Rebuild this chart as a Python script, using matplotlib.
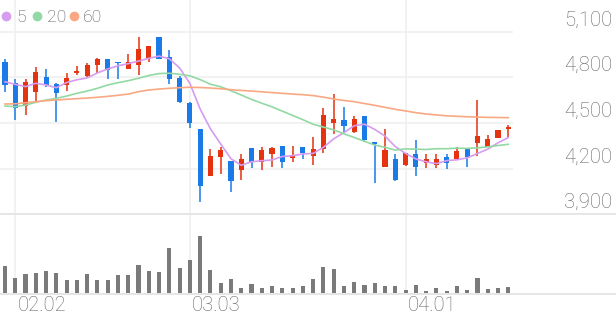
import matplotlib
matplotlib.use('Agg')
import matplotlib.pyplot as plt
import matplotlib.transforms as mtransforms
from matplotlib.lines import Line2D

# ---------------- data ----------------
opens = [4899, 4761, 4612, 4702, 4800, 4756, 4750, 4831, 4807, 4883,
         4919, 4903, 4857, 4880, 4921, 5067, 4936, 4794, 4629, 4461,
         4154, 4275, 4250, 4191, 4334, 4242, 4296, 4351, 4272, 4340,
         4285, 4329, 4498, 4520, 4443, 4546, 4373, 4213, 4261, 4224,
         4296, 4235, 4224, 4279, 4261, 4334, 4367, 4344, 4403, 4461]
highs = [4919, 4787, 4791, 4870, 4853, 4761, 4831, 4875, 4896, 4925,
         4923, 4903, 4951, 5067, 5008, 5067, 4980, 4809, 4640, 4461,
         4329, 4344, 4250, 4296, 4334, 4340, 4340, 4351, 4349, 4340,
         4406, 4597, 4691, 4603, 4546, 4546, 4373, 4461, 4296, 4305,
         4388, 4296, 4296, 4296, 4340, 4334, 4651, 4421, 4454, 4487]
lows = [4702, 4520, 4553, 4645, 4735, 4505, 4710, 4815, 4800, 4831,
        4787, 4787, 4853, 4815, 4903, 4919, 4756, 4629, 4465, 3983,
        4154, 4165, 4048, 4125, 4202, 4191, 4213, 4202, 4246, 4261,
        4224, 4301, 4428, 4432, 4436, 4377, 4108, 4209, 4121, 4219,
        4152, 4202, 4202, 4196, 4257, 4213, 4283, 4340, 4403, 4406]
closes = [4750, 4597, 4767, 4833, 4750, 4699, 4798, 4842, 4883, 4921,
          4848, 4892, 4901, 4985, 5008, 4921, 4787, 4640, 4498, 4088,
          4285, 4322, 4121, 4263, 4242, 4322, 4334, 4246, 4283, 4301,
          4329, 4553, 4524, 4482, 4524, 4388, 4360, 4322, 4125, 4301,
          4213, 4261, 4261, 4239, 4318, 4275, 4414, 4395, 4454, 4472]
volumes = [82, 47, 58, 62, 67, 62, 40, 40, 57, 40,
           40, 55, 55, 85, 67, 65, 137, 75, 100, 173,
           70, 32, 42, 17, 27, 15, 22, 17, 17, 22,
           42, 80, 72, 23, 35, 25, 30, 22, 23, 10,
           25, 8, 15, 8, 22, 10, 47, 12, 17, 18]
ma5 = [4771, 4754, 4739, 4761, 4750, 4732, 4766, 4784, 4796, 4829,
       4855, 4876, 4890, 4907, 4925, 4940, 4922, 4862, 4760, 4592,
       4462, 4362, 4265, 4222, 4245, 4252, 4257, 4280, 4285, 4297,
       4300, 4340, 4396, 4437, 4482, 4492, 4458, 4414, 4345, 4300,
       4264, 4245, 4233, 4253, 4258, 4271, 4300, 4328, 4370, 4404]
ma20 = [4612, 4607, 4618, 4636, 4651, 4662, 4677, 4695, 4710, 4728,
        4750, 4765, 4778, 4794, 4812, 4825, 4827, 4820, 4810, 4785,
        4755, 4738, 4712, 4684, 4655, 4630, 4606, 4578, 4550, 4522,
        4492, 4473, 4455, 4429, 4405, 4380, 4355, 4340, 4322, 4330,
        4328, 4326, 4331, 4331, 4335, 4333, 4337, 4343, 4352, 4360]
ma60 = [4625, 4626, 4633, 4640, 4647, 4651, 4656, 4660, 4664, 4669,
        4675, 4682, 4690, 4706, 4717, 4723, 4728, 4732, 4735, 4733,
        4730, 4725, 4719, 4714, 4710, 4705, 4700, 4695, 4690, 4686,
        4680, 4670, 4658, 4648, 4640, 4628, 4616, 4603, 4590, 4579,
        4568, 4559, 4553, 4547, 4544, 4541, 4539, 4537, 4536, 4535]
xtick_idx = [1, 18, 39]
xtick_labels = ['02.02', '03.03', '04.01']
price_ticks = [3900, 4200, 4500, 4800, 5100]
price_labels = ['3,900', '4,200', '4,500', '4,800', '5,100']
legend_labels = ['5', '20', '60']

# ---------------- style ----------------
W, H, DPI = 616, 321, 100
UP, DOWN = '#e5320f', '#1a7ae8'
MA_COLORS = ['#d69cf0', '#92d9a3', '#f9a883']
GRID = '#f0f0f0'
SEP = '#e4e4e4'
TXT = '#666666'
FONT = 'Roboto'

fig = plt.figure(figsize=(W / DPI, H / DPI), dpi=DPI)
fig.patch.set_facecolor('white')

def box(l, t, r, b):
    return [l / W, 1 - b / H, (r - l) / W, (b - t) / H]

ax = fig.add_axes(box(0, 0, 513, 214.3))
axv = fig.add_axes(box(0, 214.3, 513, 293.3), sharex=ax)
for a in (ax, axv):
    a.set_facecolor('none')
    for s in a.spines.values():
        s.set_visible(False)
    a.tick_params(left=False, bottom=False, labelleft=False, labelbottom=False)

n = len(closes)
xs = list(range(n))
ax.set_xlim(-0.487, 49.46)
ax.set_ylim(3900, 3900 + 214.3 * 300 / 45.65)
axv.set_ylim(0, 238)

# grid
for v in price_ticks[1:]:
    ax.axhline(v, color=GRID, lw=1.2, zorder=0)
for i in xtick_idx:
    ax.axvline(i, color=GRID, lw=1.2, zorder=0)
    axv.axvline(i, color=GRID, lw=1.2, zorder=0)

# candles
cols = [UP if c >= o else DOWN for o, c in zip(opens, closes)]
ax.vlines(xs, lows, highs, colors=cols, lw=1.1, zorder=2)
bottoms = [min(o, c) for o, c in zip(opens, closes)]
heights = [max(abs(c - o), 9) for o, c in zip(opens, closes)]
ax.bar(xs, heights, bottom=bottoms, width=0.5, color=cols, lw=0, zorder=2)

# moving averages
for series, col in zip([ma5, ma20, ma60], MA_COLORS):
    ax.plot(xs, series, color=col, lw=1.2, zorder=3, solid_joinstyle='round')

# volume
axv.bar(xs, volumes, width=0.4, color='#7a7a7a', lw=0, zorder=2)

# separators (full width)
for ypx in (214.3, 293.8):
    fig.add_artist(Line2D([0, 1], [1 - ypx / H] * 2, transform=fig.transFigure,
                          color=SEP, lw=1.3))

# right price labels (above gridlines)
trans = mtransforms.blended_transform_factory(fig.transFigure, ax.transData) + \
    mtransforms.ScaledTranslation(0, 6 / DPI, fig.dpi_scale_trans)
for v, lab in zip(price_ticks, price_labels):
    ax.text(612 / W, v, lab, transform=trans, ha='right', va='baseline',
            fontsize=14.6, color=TXT, family=FONT, fontweight='light', clip_on=False)

# x labels
transx = mtransforms.blended_transform_factory(axv.transData, axv.transAxes) + \
    mtransforms.ScaledTranslation(2 / DPI, -17.5 / DPI, fig.dpi_scale_trans)
for i, lab in zip(xtick_idx, xtick_labels):
    axv.text(i, 0, lab, transform=transx, ha='left', va='baseline',
             fontsize=14.6, color=TXT, family=FONT, fontweight='light', clip_on=False)

# legend
lx = [6, 37.3, 74]
tx = [16, 46.5, 83]
for cx, txx, col, lab in zip(lx, tx, MA_COLORS, legend_labels):
    fig.add_artist(Line2D([cx / W], [1 - 15.7 / H], transform=fig.transFigure,
                          marker='o', markersize=6, color=col, lw=0))
    fig.text(txx / W, 1 - 21.8 / H, lab, ha='left', va='baseline',
             fontsize=12.6, color='#555555', family=FONT, fontweight='light')

fig.savefig('out.png', dpi=DPI, facecolor='white')
